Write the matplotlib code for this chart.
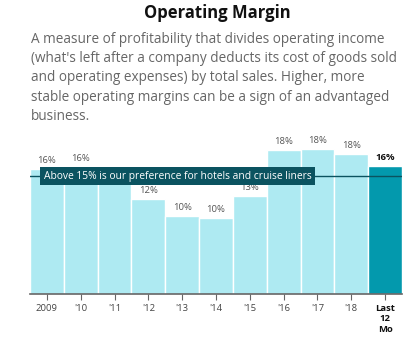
import matplotlib.pyplot as plt

years = ["2009", "'10", "'11", "'12", "'13", "'14", "'15", "'16", "'17", "'18", "Last\n12\nMo"]
margin = [15.9, 16.2, 16.1, 12.1, 9.9, 9.7, 12.5, 18.3, 18.4, 17.8, 16.3]
labels = ["16%", "16%", "", "12%", "10%", "10%", "13%", "18%", "18%", "18%", "16%"]
threshold = 15
note = "Above 15% is our preference for hotels and cruise liners"

plt.rcParams['font.family'] = ['Open Sans', 'DejaVu Sans']

fig = plt.figure(figsize=(4.18, 3.57), dpi=100)
ax = fig.add_axes([30 / 418, 1 - 294 / 357, 372 / 418, 154 / 357])

light = '#aeeaf2'
dark = '#0399ad'
colors = [light] * (len(years) - 1) + [dark]
x = list(range(len(years)))
ax.bar(x, margin, width=1.0, color=colors, edgecolor='white', linewidth=1)
ax.set_xlim(-0.5, len(years) - 0.5)
ax.set_ylim(0, 19.6)

for i, (v, lab) in enumerate(zip(margin, labels)):
    if not lab:
        continue
    last = i == len(years) - 1
    ax.annotate(lab, (i, v), xytext=(0, 3), textcoords='offset points',
                ha='center', va='bottom', fontsize=6.8,
                color='#111111' if last else '#555555',
                fontweight='bold' if last else 'normal')

ax.axhline(threshold, color='#0b5360', linewidth=1)
ax.text(-0.1, threshold, note, fontsize=7.4, color='white', va='center', ha='left',
        bbox=dict(boxstyle='square,pad=0.32', fc='#0b5360', ec='none'))

for s in ['top', 'right', 'left']:
    ax.spines[s].set_visible(False)
ax.spines['bottom'].set_color('#666666')
ax.spines['bottom'].set_linewidth(1.2)
ax.set_yticks([])
ax.set_xticks(x)
ax.set_xticklabels(years, fontsize=6.8, linespacing=1.15)
ax.tick_params(axis='x', colors='#666666', length=4, labelcolor='#444444')
ax.get_xticklabels()[-1].set_fontweight('bold')
ax.get_xticklabels()[-1].set_color('#111111')

fig.text(217 / 418, 1 - 18 / 357, "Operating Margin", fontsize=12, fontweight='bold',
         ha='center', va='baseline', color='#111111')
desc = ("A measure of profitability that divides operating income\n"
        "(what's left after a company deducts its cost of goods sold\n"
        "and operating expenses) by total sales. Higher, more\n"
        "stable operating margins can be a sign of an advantaged\n"
        "business.")
fig.text(31 / 418, 1 - 32 / 357, desc, fontsize=9.8, color='#666666',
         ha='left', va='top', linespacing=1.38)

fig.savefig('out.png', dpi=100)
